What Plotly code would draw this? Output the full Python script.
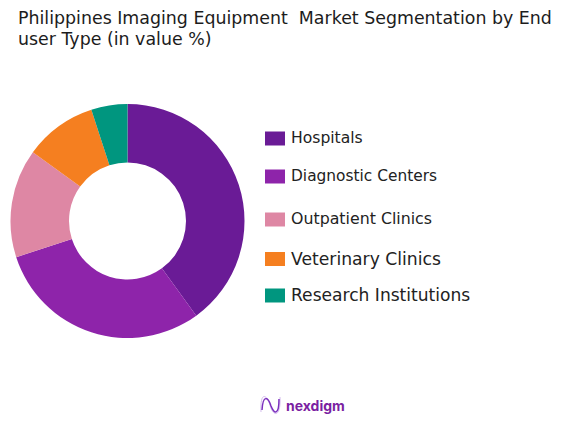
import plotly.graph_objects as go

W, H = 584, 424

categories = ["Hospitals", "Diagnostic Centers", "Outpatient Clinics", "Veterinary Clinics", "Research Institutions"]
shares = [40, 30, 15, 10, 5]
colors = ["#6A1B96", "#8E24AA", "#DE87A4", "#F57F20", "#00967F"]

swatch_y = [138.5, 176.5, 219.5, 259, 295.5]
legend_y = [138.5, 176, 218, 259, 295]
legend_size = [15.6, 15.4, 15.8, 17.2, 17.1]
title_lines = ["Philippines Imaging Equipment  Market Segmentation by End", "user Type (in value %)"]
title_y = [18, 39]
FONT = "DejaVu Sans"


def px(x):
    return x / W


def py(y):
    return 1 - y / H


def curve(pts):
    # pts are in page pixels, first is the start, then three per cubic segment
    s = f"M {px(pts[0][0])} {py(pts[0][1])}"
    for i in range(1, len(pts), 3):
        s += " C " + ", ".join(f"{px(a)} {py(b)}" for a, b in pts[i:i + 3])
    return s


fig = go.Figure()
fig.add_trace(go.Pie(
    labels=categories,
    values=shares,
    hole=0.5,
    sort=False,
    direction="clockwise",
    rotation=0,
    marker=dict(colors=colors, line=dict(width=0)),
    textinfo="none",
    hoverinfo="label+percent",
    domain=dict(x=[px(10.5), px(244.5)], y=[py(338), py(104)]),
))

annotations = []
shapes = []

for line, y in zip(title_lines, title_y):
    annotations.append(dict(x=px(18), y=py(y), xref="paper", yref="paper", text=line,
                            showarrow=False, xanchor="left", yanchor="middle", xshift=-2,
                            font=dict(family=FONT, size=17.4, color="#1c1c1c")))

# legend is drawn by hand, the rows are not evenly spaced
for name, col, sy, y, size in zip(categories, colors, swatch_y, legend_y, legend_size):
    shapes.append(dict(type="rect", xref="paper", yref="paper", x0=px(265), x1=px(285),
                       y0=py(sy - 7), y1=py(sy + 7), fillcolor=col, line=dict(width=0)))
    annotations.append(dict(x=px(291), y=py(y), xref="paper", yref="paper", text=name,
                            showarrow=False, xanchor="left", yanchor="middle", xshift=-2,
                            font=dict(family=FONT, size=size, color="#222222")))

# logo
annotations.append(dict(x=px(286), y=py(405.5), xref="paper", yref="paper", text="<b>nexdigm</b>",
                        showarrow=False, xanchor="left", yanchor="middle", xshift=-2,
                        font=dict(family="Inter", size=14, color="#7B1FA2")))
shapes.append(dict(type="path", xref="paper", yref="paper", line=dict(color="#D5BDEE", width=1),
                   path=curve([(261, 412), (260, 390), (267, 395), (270, 405),
                               (273, 417), (281, 418), (280, 397)])))
shapes.append(dict(type="path", xref="paper", yref="paper", line=dict(color="#7B2FBE", width=1.5),
                   path=curve([(262, 410), (263, 394), (268, 397), (271, 406),
                               (274, 414), (279, 416), (279, 399)])))

fig.update_layout(
    width=W, height=H,
    margin=dict(l=0, r=0, t=0, b=0),
    paper_bgcolor="white",
    showlegend=False,
    annotations=annotations,
    shapes=shapes,
)

fig.write_html("out.html", post_script="document.body.style.margin = '0';",
               config={"displayModeBar": False})
